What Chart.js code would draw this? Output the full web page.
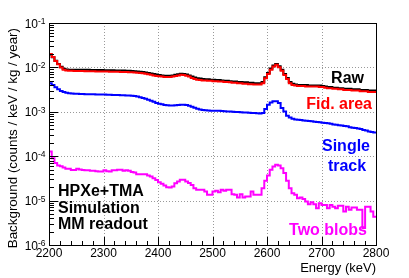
<!DOCTYPE html>
<html lang="en">
<head>
<meta charset="UTF-8">
<title>Background spectrum</title>
<script src="https://cdn.jsdelivr.net/npm/chart.js"></script>
<style>
  body { margin: 0; background: #fff; }
  canvas { display: block; }
</style>
</head>
<body>
<canvas id="bkgChart" width="409" height="278"></canvas>
<script>
// histogram binning (keV)
const xMin = 2200;
const xMax = 2800;
const binWidth = 5;

// counts / keV / kg / year, one value per 5 keV bin starting at 2200
const rawValues = [
  .0195, .0169, .0142, .0120, .0103, .0093, .0090, .0089, .0089, .0089,
  .0088, .0088, .0088, .0088, .0088, .0087, .0087, .0087, .0087, .0087,
  .0086, .0086, .0086, .0086, .0085, .0085, .0085, .0085, .0084, .0084,
  .0083, .0082, .0081, .0080, .0079, .0077, .0075, .0073, .0071, .0069,
  .0067, .0066, .0065, .0065, .0065, .0066, .0068, .0070, .0072, .0071,
  .0069, .0066, .0062, .0059, .0057, .0056, .0055, .0054, .0054, .0053,
  .0053, .0052, .0052, .0051, .0050, .0050, .0049, .0048, .0048, .0047,
  .0047, .0046, .0046, .0045, .0045, .0044, .0044, .0044, .0047, .0060,
  .0075, .0094, .0111, .0120, .0106, .0089, .0071, .0058, .0047, .0043,
  .0041, .0040, .0040, .0040, .0040, .0039, .0039, .0039, .0039, .0039,
  .0038, .0037, .0036, .0036, .0035, .0035, .0034, .0034, .0033, .0033,
  .0033, .0032, .0032, .0032, .0031, .0031, .0031, .0030, .0030, .0030
];
const fidValues = [
  .0200, .0172, .0140, .0117, .0099, .0088, .0085, .0084, .0084, .0083,
  .0083, .0083, .0083, .0082, .0082, .0082, .0082, .0081, .0081, .0081,
  .0081, .0081, .0080, .0080, .0080, .0080, .0079, .0079, .0079, .0078,
  .0078, .0077, .0076, .0075, .0074, .0072, .0070, .0068, .0066, .0064,
  .0063, .0062, .0061, .0061, .0061, .0062, .0064, .0066, .0068, .0067,
  .0065, .0062, .0058, .0055, .0053, .0052, .0051, .0051, .0050, .0050,
  .0049, .0049, .0048, .0048, .0047, .0047, .0046, .0045, .0045, .0044,
  .0044, .0043, .0043, .0042, .0042, .0041, .0041, .0041, .0044, .0057,
  .0071, .0089, .0105, .0114, .0101, .0084, .0067, .0055, .0044, .0040,
  .0039, .0038, .0038, .0038, .0037, .0037, .0037, .0037, .0037, .0036,
  .0036, .0035, .0034, .0034, .0033, .0033, .0032, .0032, .0031, .0031,
  .0031, .0030, .0030, .0030, .0029, .0029, .0029, .0028, .0028, .0028
];
const singleValues = [
  .00440, .00400, .00355, .00320, .00295, .00280, .00268, .00262, .00258, .00256,
  .00255, .00253, .00252, .00250, .00249, .00248, .00247, .00246, .00246, .00245,
  .00244, .00243, .00242, .00240, .00239, .00238, .00237, .00236, .00234, .00233,
  .00230, .00226, .00220, .00212, .00204, .00196, .00187, .00178, .00168, .00158,
  .00152, .00147, .00143, .00140, .00138, .00138, .00140, .00143, .00145, .00145,
  .00142, .00136, .00130, .00123, .00117, .00113, .00110, .00108, .00107, .00106,
  .00106, .00105, .00105, .00104, .00103, .00102, .00101, .00100, .00099, .00099,
  .00098, .00097, .00096, .00095, .00094, .00094, .00093, .00092, .00094, .00116,
  .00145, .00163, .00172, .00172, .00158, .00122, .00102, .00082, .00074, .00070,
  .00067, .00066, .00065, .00064, .00063, .00062, .00061, .00060, .00059, .00058,
  .00057, .00056, .00055, .00054, .00052, .00051, .00050, .00049, .00048, .00047,
  .00045, .00044, .00043, .00042, .00041, .00039, .00038, .00036, .00035, .00034
];
const blobValues = [
  1.28e-4, 9.0e-5, 7.0e-5, 6.2e-5, 5.9e-5, 5.6e-5, 5.2e-5, 5.2e-5, 4.9e-5, 4.9e-5,
  5.2e-5, 5.0e-5, 4.9e-5, 4.85e-5, 4.8e-5, 4.7e-5, 4.68e-5, 4.6e-5, 4.52e-5, 4.5e-5,
  4.85e-5, 4.6e-5, 4.5e-5, 4.85e-5, 4.8e-5, 4.93e-5, 4.93e-5, 4.7e-5, 4.8e-5, 4.68e-5,
  4.38e-5, 4.3e-5, 3.94e-5, 3.94e-5, 3.94e-5, 3.94e-5, 3.67e-5, 3.5e-5, 3.2e-5, 2.9e-5,
  2.6e-5, 2.4e-5, 2.18e-5, 2.0e-5, 1.96e-5, 2.07e-5, 2.47e-5, 2.69e-5, 2.93e-5, 2.93e-5,
  2.69e-5, 2.5e-5, 2.26e-5, 1.9e-5, 1.75e-5, 1.75e-5, 1.75e-5, 1.6e-5, 1.35e-5, 1.35e-5,
  1.6e-5, 1.66e-5, 1.55e-5, 1.75e-5, 1.66e-5, 1.75e-5, 1.75e-5, 1.39e-5, 1.35e-5, 1.17e-5,
  1.39e-5, 1.17e-5, 1.23e-5, 1.23e-5, 1.6e-5, 1.35e-5, 1.35e-5, 1.35e-5, 1.9e-5, 2.79e-5,
  3.67e-5, 4.93e-5, 5.85e-5, 6.4e-5, 6.2e-5, 5.38e-5, 4.16e-5, 2.79e-5, 1.9e-5, 1.47e-5,
  1.35e-5, 1.13e-5, 1.17e-5, 1.09e-5, 9.5e-6, 8.3e-6, 9.2e-6, 8.3e-6, 6.7e-6, 8.7e-6,
  8.0e-6, 8.0e-6, 6.7e-6, 8.0e-6, 7.3e-6, 6.7e-6, 7.7e-6, 7.7e-6, 5.65e-6, 7.3e-6,
  6.2e-6, 6.95e-6, 6.95e-6, 6.2e-6, 6.2e-6, 2.4e-6, 7.3e-6, 7.3e-6, 5.65e-6, 4.35e-6
];

const xTicks = [2200, 2300, 2400, 2500, 2600, 2700, 2800];
const xTickLabels = ['2200', '2300', '2400', '2500', '2600', '2700', '2800'];
const yExponents = [-6, -5, -4, -3, -2, -1];

const FONT = "'Liberation Sans', Arial, Helvetica, sans-serif";

// histogram outline: one point at each lower bin edge plus the upper edge
function histPoints(values) {
    const pts = values.map((v, i) => ({ x: xMin + i * binWidth, y: v }));
    pts.push({ x: xMax, y: values[values.length - 1] });
    return pts;
}

function hline(ctx, x1, y1, x2, y2) {
    ctx.beginPath();
    ctx.moveTo(x1, y1);
    ctx.lineTo(x2, y2);
    ctx.stroke();
}

const rootFrame = {
    id: 'rootFrame',
    beforeDatasetsDraw(chart) {
        const { ctx, chartArea: a, scales: { x, y } } = chart;
        ctx.save();
        ctx.strokeStyle = '#999';
        ctx.lineWidth = 1;
        ctx.setLineDash([1, 2]);
        xTicks.slice(1, -1).forEach(v => {
            const px = Math.round(x.getPixelForValue(v)) + 0.5;
            hline(ctx, px, a.top, px, a.bottom);
        });
        yExponents.slice(1, -1).forEach(e => {
            const py = Math.round(y.getPixelForValue(Math.pow(10, e))) + 0.5;
            hline(ctx, a.left, py, a.right, py);
        });
        ctx.restore();
    },
    afterDatasetsDraw(chart) {
        const { ctx, chartArea: a, scales: { x, y } } = chart;
        ctx.save();
        ctx.strokeStyle = '#000';
        ctx.lineWidth = 1;
        ctx.strokeRect(Math.round(a.left) + 0.5, Math.round(a.top) + 0.5,
            Math.round(a.right - a.left), Math.round(a.bottom - a.top));

        // x ticks (inside), minor every 20 keV
        for (let v = xMin; v <= xMax; v += 20) {
            const px = Math.round(x.getPixelForValue(v)) + 0.5;
            const len = v % 100 === 0 ? 8 : 4;
            hline(ctx, px, a.bottom, px, a.bottom - len);
        }
        // y ticks, decades and 2..9
        yExponents.forEach(e => {
            const py = Math.round(y.getPixelForValue(Math.pow(10, e))) + 0.5;
            hline(ctx, a.left, py, a.left + 9, py);
            if (e === -1) return;
            for (let m = 2; m <= 9; m++) {
                const pm = Math.round(y.getPixelForValue(m * Math.pow(10, e))) + 0.5;
                hline(ctx, a.left, pm, a.left + 5, pm);
            }
        });

        ctx.fillStyle = '#000';
        ctx.font = '12px ' + FONT;
        ctx.textBaseline = 'alphabetic';
        ctx.textAlign = 'center';
        xTicks.forEach((v, i) => {
            ctx.fillText(xTickLabels[i], x.getPixelForValue(v), a.bottom + 12);
        });
        yExponents.forEach(e => {
            const py = y.getPixelForValue(Math.pow(10, e));
            ctx.textAlign = 'right';
            ctx.font = '12px ' + FONT;
            ctx.fillText('10', a.left - 11, py + 4.5);
            ctx.textAlign = 'left';
            ctx.font = '8.5px ' + FONT;
            ctx.fillText(String(e), a.left - 11, py + 1);
        });

        ctx.font = '13px ' + FONT;
        ctx.textAlign = 'right';
        ctx.fillText('Energy (keV)', a.right, 272);
        ctx.save();
        ctx.font = '13.4px ' + FONT;
        ctx.translate(17, 28);
        ctx.rotate(-Math.PI / 2);
        ctx.fillText('Background (counts / keV / kg / year)', 0, 0);
        ctx.restore();

        ctx.font = 'bold 16px ' + FONT;
        ctx.textAlign = 'right';
        ctx.fillStyle = '#000';
        ctx.fillText('Raw', 364, 83);
        ctx.fillStyle = '#ff0000';
        ctx.fillText('Fid. area', 372, 108.5);
        ctx.fillStyle = '#ff00ff';
        ctx.fillText('Two blobs', 367, 235);
        ctx.textAlign = 'center';
        ctx.fillStyle = '#0000ff';
        ctx.fillText('Single', 346, 151);
        ctx.fillText('track', 347, 170.5);
        ctx.textAlign = 'left';
        ctx.fillStyle = '#000';
        ctx.fillText('HPXe+TMA', 58, 195.7);
        ctx.fillText('Simulation', 58, 213.3);
        ctx.fillText('MM readout', 58, 229.3);
        ctx.restore();
    }
};

const ctx = document.getElementById('bkgChart').getContext('2d');
const bkgChart = new Chart(ctx, {
    type: 'line',
    data: {
        datasets: [
            { label: 'Two blobs', data: histPoints(blobValues), borderColor: '#ff00ff', order: 4 },
            { label: 'Single track', data: histPoints(singleValues), borderColor: '#0000ff', order: 3 },
            { label: 'Fid. area', data: histPoints(fidValues), borderColor: '#ff0000', order: 1 },
            { label: 'Raw', data: histPoints(rawValues), borderColor: '#000000', order: 2 }
        ].map(ds => Object.assign(ds, {
            stepped: 'before',
            borderWidth: 2,
            pointRadius: 0,
            fill: false,
            tension: 0
        }))
    },
    options: {
        responsive: false,
        animation: false,
        layout: { padding: { left: 49, right: 33, top: 23, bottom: 33 } },
        scales: {
            x: { type: 'linear', min: xMin, max: xMax, display: false },
            y: { type: 'logarithmic', min: 1e-6, max: 1e-1, display: false }
        },
        plugins: {
            legend: { display: false },
            tooltip: { enabled: false }
        }
    },
    plugins: [rootFrame]
});
</script>
</body>
</html>
